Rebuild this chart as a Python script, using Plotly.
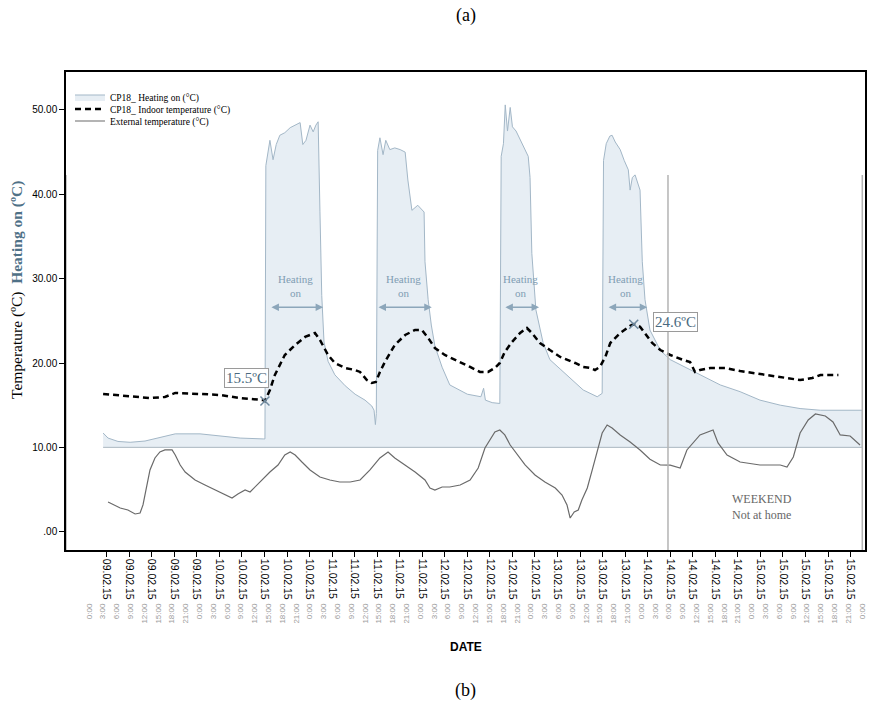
import plotly.graph_objects as go

# ---------------- data (hours since 09.02.15 0:00) ----------------
heating_h = [-0.8, 0.3, 2.5, 5.2, 8.5, 11.8, 15.2, 20.7, 25.1, 29.6, 34.7, 35.1,
             35.3, 36.2, 36.9, 37.6, 38.4, 39.5, 40.7, 42.0, 42.9, 43.5, 44.2, 45.1, 45.8, 46.4, 46.9,
             47.3, 47.7, 48.2, 49.1, 50.6, 52.9, 55.1, 57.3, 58.8, 59.3, 59.6, 59.8,
             60.1, 60.6, 61.3, 61.9, 62.8, 63.9, 65.1, 66.2, 66.8, 67.7, 69.0, 69.9, 70.4,
             70.6, 71.3, 72.0, 72.8, 74.4, 76.1, 80.0, 83.0, 83.6, 84.0, 85.5, 87.2,
             87.5, 88.0, 88.4, 88.9, 89.5, 90.0, 90.8, 91.7, 92.7, 93.5, 93.9,
             94.3, 95.2, 96.8, 98.3, 102.1, 105.7, 108.8, 109.9,
             110.2, 110.8, 111.6, 112.1, 112.8, 113.9, 114.8, 115.7, 116.1, 116.6, 117.2, 117.9, 118.3,
             118.8, 119.4, 120.5, 122.8, 125.0, 127.2, 129.4, 131.6, 136.1, 140.5, 144.9, 149.4,
             153.8, 158.3, 162.7, 167.6, 167.6]
heating_v = [11.7, 11.1, 10.7, 10.6, 10.75, 11.2, 11.6, 11.6, 11.35, 11.1, 11.0, 11.0,
             43.4, 46.4, 44.1, 45.9, 47.0, 47.3, 47.9, 48.2, 48.5, 45.9, 46.4, 48.2, 47.4, 48.2, 48.6,
             38.0, 28.0, 22.5, 20.2, 18.6, 17.3, 16.3, 15.6, 14.9, 14.4, 12.7, 14.0,
             45.2, 46.7, 44.7, 46.4, 45.3, 45.5, 45.3, 45.0, 41.7, 38.1, 38.7, 38.1, 37.9,
             32.0, 27.5, 24.5, 22.0, 19.5, 17.4, 16.3, 16.0, 17.0, 15.6, 15.3, 15.2,
             44.5, 46.0, 50.6, 47.5, 50.3, 48.0, 47.5, 46.5, 45.5, 44.5, 42.0,
             33.0, 26.3, 22.4, 20.4, 18.6, 16.8, 16.0, 16.4,
             44.0, 46.0, 46.9, 47.0, 46.2, 45.3, 44.0, 42.9, 40.5, 42.0, 42.3, 41.1, 40.5,
             32.0, 27.5, 23.9, 21.5, 20.4, 19.8, 19.2, 18.6, 17.4, 16.6, 15.6, 15.0,
             14.6, 14.4, 14.4, 14.4, 10.0]

indoor_h = [-0.8, 5.2, 9.6, 12.9, 15.2, 20.7, 25.1, 29.6, 34.7, 35.1, 36.2, 37.3, 39.5, 41.8,
            44.0, 46.2, 47.3, 49.1, 50.6, 52.9, 55.1, 56.2, 57.7, 58.8, 59.7, 60.6, 61.7, 63.9,
            66.2, 68.4, 69.9, 71.3, 72.8, 75.0, 78.4, 80.6, 82.8, 84.6, 86.1, 87.2, 88.3, 89.9,
            91.7, 93.2, 94.3, 96.1, 98.3, 100.6, 103.9, 105.7, 107.2, 108.3, 109.4, 110.6, 111.7,
            113.9, 116.1, 116.9, 118.3, 119.4, 121.0, 122.8, 125.0, 127.9, 129.4, 130.5, 131.6,
            133.9, 137.2, 140.5, 144.9, 149.4, 153.8, 156.5, 158.3, 160.9, 162.3]
indoor_v = [16.33, 16.09, 15.85, 15.97, 16.45, 16.33, 16.21, 15.85, 15.61, 15.5, 16.8, 18.58,
            20.95, 22.14, 23.09, 23.56, 22.73, 20.95, 20.0, 19.41, 19.17, 18.94, 17.98, 17.63,
            17.75, 18.94, 20.12, 22.14, 23.32, 23.92, 23.92, 22.97, 21.78, 20.95, 20.12, 19.53,
            18.94, 18.94, 19.41, 20.0, 21.31, 22.49, 23.56, 24.15, 23.56, 22.37, 21.54, 20.72,
            20.0, 19.53, 19.41, 19.17, 19.53, 20.72, 22.37, 23.56, 24.4, 24.6, 24.3, 23.56,
            22.37, 21.54, 20.95, 20.36, 20.12, 18.94, 19.17, 19.41, 19.41, 19.05, 18.7, 18.34,
            17.98, 18.22, 18.58, 18.58, 18.58]

external_h = [0.3, 1.8, 3.0, 4.7, 6.3, 7.4, 8.05, 8.7, 9.6, 10.7, 11.8, 12.9, 14.5, 15.2,
              16.3, 17.4, 19.6, 21.8, 24.0, 26.2, 27.8, 29.1, 30.7, 31.8, 32.9, 34.4, 36.2,
              38.0, 39.5, 40.7, 41.8, 43.3, 45.1, 47.3, 49.5, 51.7, 54.0, 56.2, 58.4, 60.6,
              62.4, 63.9, 66.2, 68.4, 70.6, 71.7, 72.8, 74.4, 76.1, 78.4, 80.6, 82.4, 83.9,
              85.0, 86.1, 87.2, 88.3, 89.5, 91.2, 92.8, 95.0, 97.2, 99.5, 101.0, 102.1, 102.8,
              103.7, 104.6, 105.4, 106.6, 107.7, 108.8, 109.9, 111.0, 112.1, 113.9, 116.1,
              118.3, 120.5, 122.8, 125.0, 127.2, 128.7, 131.6, 134.5, 135.6, 137.6, 140.5,
              144.9, 149.4, 150.9, 152.3, 153.8, 155.6, 157.2, 159.4, 161.1, 162.7, 164.9, 167.1]
external_v = [3.52, 3.17, 2.81, 2.57, 2.10, 2.22, 3.17, 4.94, 7.32, 8.74, 9.45, 9.69, 9.69, 9.09,
              7.91, 7.08, 6.13, 5.54, 4.94, 4.35, 4.0, 4.47, 4.94, 4.71, 5.30, 6.13, 7.08,
              7.91, 9.09, 9.45, 9.09, 8.26, 7.32, 6.49, 6.13, 5.89, 5.89, 6.13, 7.32, 8.74,
              9.45, 8.74, 7.91, 7.08, 6.13, 5.18, 4.94, 5.30, 5.30, 5.54, 6.13, 7.55, 9.92,
              10.87, 11.82, 12.06, 11.47, 10.28, 9.09, 7.91, 6.72, 5.89, 5.18, 4.35, 3.17, 1.62,
              2.34, 2.57, 3.76, 5.18, 7.32, 9.69, 11.70, 12.65, 12.30, 11.47, 10.64,
              9.69, 8.6, 7.91, 7.9, 7.55, 9.69, 11.47, 12.06, 10.52, 9.09, 8.26,
              7.91, 7.91, 7.67, 8.86, 11.70, 13.25, 13.96, 13.72, 13.01, 11.47, 11.35, 10.28]

baseline_value = 10.0
marker_h = [35.1, 116.9]
marker_v = [15.5, 24.6]
marker_labels = ["15.5ºC", "24.6ºC"]

heating_start_h = [36.2, 59.95, 88.1, 111.0]
heating_end_h = [48.0, 72.1, 95.9, 119.9]

dates = ["09.02.15", "10.02.15", "11.02.15", "12.02.15", "13.02.15", "14.02.15", "15.02.15"]
times_of_day = ["0:00", "3:00", "6:00", "9:00", "12:00", "15:00", "18:00", "21:00"]

# ---------------- derived tick labels ----------------
date_tick_step = 5
date_tickvals = list(range(0, 166, date_tick_step))
date_ticktext = [dates[h // 24] for h in date_tickvals]
time_ticktext = [t for _ in dates for t in times_of_day] + ["0:00"]
time_tickvals = list(range(len(time_ticktext)))

SERIF = "Liberation Serif, Times New Roman, serif"
SANS = "Liberation Sans, Arial, sans-serif"

# paper geometry: plot area 72..550 px, paper bottom (time-label axis) at 601 px
PAPER_TOP, PAPER_BOTTOM = 72, 601
def py(px):
    return (PAPER_BOTTOM - px) / (PAPER_BOTTOM - PAPER_TOP)

fig = go.Figure()

fig.add_trace(go.Scatter(x=[heating_h[0], heating_h[-1]], y=[baseline_value, baseline_value],
                         mode="lines", line=dict(color="#aab6c0", width=1),
                         showlegend=False, hoverinfo="skip"))
fig.add_trace(go.Scatter(x=heating_h, y=heating_v, mode="lines", fill="tonexty",
                         fillcolor="#e7eef4", line=dict(color="#a3b7c7", width=1),
                         name="CP18_ Heating on (°C)", legend="legend"))
fig.add_trace(go.Scatter(x=external_h, y=external_v, mode="lines",
                         line=dict(color="#6a6a6a", width=1.2),
                         name="External temperature (°C)", legend="legend3"))
fig.add_trace(go.Scatter(x=indoor_h, y=indoor_v, mode="lines",
                         line=dict(color="black", width=2.5, dash="6px,4px"),
                         name="CP18_ Indoor temperature (°C)", legend="legend2"))
fig.add_trace(go.Scatter(x=marker_h, y=marker_v, mode="markers",
                         marker=dict(symbol="x-thin", size=9,
                                     line=dict(color="#6f8aa0", width=1.5)),
                         showlegend=False, hoverinfo="skip"))
fig.add_trace(go.Scatter(x=time_tickvals, y=[None] * len(time_tickvals), xaxis="x2",
                         mode="markers", showlegend=False, hoverinfo="skip"))

annotations = []
for s, e in zip(heating_start_h, heating_end_h):
    mid = (s + e) / 2
    annotations.append(dict(x=e, y=26.6, ax=s, ay=26.6, xref="x", yref="y", axref="x", ayref="y",
                            text="", showarrow=True, arrowside="end+start", arrowhead=2,
                            arrowsize=1, arrowwidth=1.5, arrowcolor="#8ca6ba", standoff=0,
                            startstandoff=0))
    annotations.append(dict(x=mid - 0.3, y=29.1, xref="x", yref="y", text="Heating<br>on",
                            showarrow=False, font=dict(family=SERIF, size=11, color="#7f9db3")))
annotations.append(dict(x=30.9, y=18.2, xref="x", yref="y", text=marker_labels[0], showarrow=False,
                        font=dict(family=SERIF, size=15, color="#4b6a80"), bordercolor="#9a9a9a",
                        borderwidth=1, borderpad=1, bgcolor="white"))
annotations.append(dict(x=126.1, y=24.85, xref="x", yref="y", text=marker_labels[1], showarrow=False,
                        font=dict(family=SERIF, size=15, color="#4b6a80"), bordercolor="#9a9a9a",
                        borderwidth=1, borderpad=1, bgcolor="white"))
annotations.append(dict(x=145.3, y=2.9, xref="x", yref="y", text="WEEKEND<br>Not at home",
                        showarrow=False, font=dict(family=SERIF, size=12, color="#666666")))
annotations.append(dict(x=0.5, y=py(15), xref="paper", yref="paper", text="(a)", showarrow=False,
                        xanchor="center", yanchor="middle",
                        font=dict(family=SERIF, size=18, color="black")))
annotations.append(dict(x=0.5, y=py(690), xref="paper", yref="paper", text="(b)", showarrow=False,
                        xanchor="center", yanchor="middle",
                        font=dict(family=SERIF, size=18, color="black")))
annotations.append(dict(x=0.5, y=py(647), xref="paper", yref="paper", text="<b>DATE</b>",
                        showarrow=False, xanchor="center", yanchor="middle",
                        font=dict(family=SANS, size=12, color="black")))
annotations.append(dict(x=(17 - 66) / 799, y=py(290), xref="paper", yref="paper", textangle=-90,
                        xanchor="center", yanchor="middle",
                        text="Temperature (ºC)  <b><span style='color:#4f7187'>Heating on (ºC)</span></b>",
                        showarrow=False, font=dict(family=SERIF, size=15.5, color="black")))

weekend_lines_h = [-9.03, 124.5, 167.6]
shapes = [dict(type="line", xref="x", yref="y", x0=h, x1=h, y0=-2.17, y1=42.3,
               line=dict(color="#b3b3b3", width=1.5)) for h in weekend_lines_h]

legend_common = dict(x=0.005, xanchor="left", yanchor="middle", bgcolor="rgba(0,0,0,0)",
                     borderwidth=0, font=dict(family=SERIF, size=9.5, color="black"),
                     itemwidth=30)

fig.update_layout(
    width=894, height=715,
    margin=dict(l=66, r=29, t=PAPER_TOP, b=715 - PAPER_BOTTOM),
    paper_bgcolor="white", plot_bgcolor="white",
    showlegend=True,
    legend=dict(legend_common, y=py(97)),
    legend2=dict(legend_common, y=py(109)),
    legend3=dict(legend_common, y=py(121)),
    xaxis=dict(range=[-9.03, 168.2], tickmode="array", tickvals=date_tickvals,
               ticktext=date_ticktext, tickangle=90, ticks="outside", ticklen=5,
               tickcolor="black", tickwidth=1.2, anchor="y",
               tickfont=dict(family=SANS, size=10.5, color="black"),
               showline=True, linecolor="black", linewidth=1.5, mirror=True,
               showgrid=False, zeroline=False),
    xaxis2=dict(range=[-1.667, 56.217], overlaying="x", anchor="free", position=0,
                side="bottom", tickmode="array", tickvals=time_tickvals, ticktext=time_ticktext,
                tickangle=-90, ticks="",
                tickfont=dict(family=SANS, size=8, color="#9a9a9a"),
                showline=False, showgrid=False, zeroline=False),
    yaxis=dict(domain=[py(550), 1], range=[-2.17, 54.5], tickmode="array",
               tickvals=[0, 10, 20, 30, 40, 50],
               ticktext=[".00", "10.00", "20.00", "30.00", "40.00", "50.00"],
               ticks="outside", ticklen=5, tickcolor="black", tickwidth=1.2,
               tickfont=dict(family=SANS, size=10, color="black"),
               showline=True, linecolor="black", linewidth=1.5, mirror=True,
               showgrid=False, zeroline=False),
    annotations=annotations,
    shapes=shapes,
)

fig.write_html("out.html")
